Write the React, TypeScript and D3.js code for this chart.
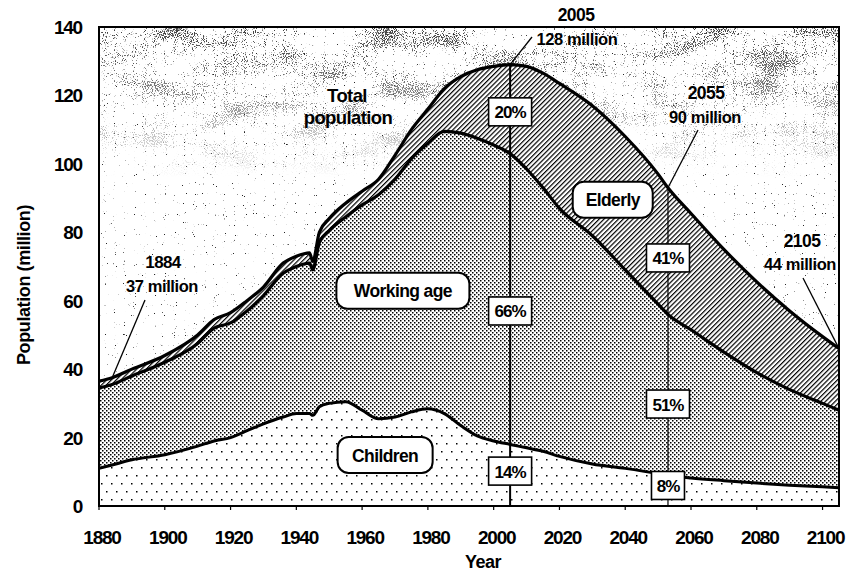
import React from 'react';
import * as d3 from 'd3';

// population of Japan, million
const years = [1880, 1884, 1890, 1900, 1910, 1915, 1920, 1925, 1930, 1936, 1940, 1944, 1945, 1947, 1950, 1955, 1960, 1965, 1970, 1975, 1980, 1985, 1990, 1995, 2000, 2005, 2010, 2015, 2020, 2030, 2040, 2050, 2053, 2060, 2070, 2080, 2090, 2100, 2105];
const total = [36.5, 37.5, 40, 44, 50, 54.5, 56.5, 60, 64, 71, 73, 74, 71.5, 80, 84, 88.5, 92, 95.5, 102.5, 110, 116, 122, 125.5, 127.5, 128.5, 129, 128.5, 126.5, 123.5, 117, 108, 97, 93, 85.5, 75, 65.5, 57, 49.5, 46];
const nonElderly = [34.5, 35.5, 38, 42, 47.5, 52, 53.5, 57, 61.5, 68, 70, 71, 69, 77, 80.5, 84.5, 88, 91, 95.5, 101.5, 106, 109.5, 109, 107.5, 105.5, 103, 98.5, 93, 87, 79, 69, 59, 56, 51.5, 45, 39, 34, 30, 28];
const children = [11, 12, 13.5, 15, 17.5, 19, 20, 22, 24, 26, 27, 27, 26.5, 29, 30, 30.5, 28, 25.5, 26, 27.5, 28.4, 27, 23.5, 20.5, 19, 18, 17, 16, 14.5, 12.3, 11, 9.5, 9, 8.2, 7.4, 6.7, 6.1, 5.6, 5.3];

const xTicks = [1880, 1900, 1920, 1940, 1960, 1980, 2000, 2020, 2040, 2060, 2080, 2100];
const yTicks = [0, 20, 40, 60, 80, 100, 120, 140];

const markerYears = [2005, 2053];
const shareLabels = [
  { year: 2005, value: 115.2, text: '20%' },
  { year: 2005, value: 57, text: '66%' },
  { year: 2005, value: 10.2, text: '14%' },
  { year: 2053, value: 72.5, text: '41%' },
  { year: 2053, value: 29.8, text: '51%' },
  { year: 2053, value: 6, text: '8%' },
];
const groupLabels = [
  { year: 1972.4, value: 62.9, text: 'Working age', w: 133 },
  { year: 1967, value: 14.9, text: 'Children', w: 95 },
  { year: 2036.2, value: 89.5, text: 'Elderly', w: 80 },
];

const W = 849, H = 574;
const FONT = 'Arial, "Liberation Sans", Helvetica, sans-serif';

const totalAt = (yr: number) => {
  const i = years.findIndex(v => v >= yr);
  if (years[i] === yr) return total[i];
  const f = (yr - years[i - 1]) / (years[i] - years[i - 1]);
  return total[i - 1] + f * (total[i] - total[i - 1]);
};

export default function App() {
  const x = d3.scaleLinear().domain([1880, 2105]).range([99, 839]);
  const y = d3.scaleLinear().domain([0, 140]).range([506, 27]);
  const rows = years.map((yr, i) => ({ yr, t: total[i], n: nonElderly[i], c: children[i] }));
  const curve = d3.curveMonotoneX;

  const childArea = d3.area<any>().x(d => x(d.yr)).y0(y(0)).y1(d => y(d.c)).curve(curve)(rows)!;
  const workArea = d3.area<any>().x(d => x(d.yr)).y0(d => y(d.c)).y1(d => y(d.n)).curve(curve)(rows)!;
  const oldArea = d3.area<any>().x(d => x(d.yr)).y0(d => y(d.n)).y1(d => y(d.t)).curve(curve)(rows)!;
  const line = (key: string) => d3.line<any>().x(d => x(d.yr)).y(d => y(d[key])).curve(curve)(rows)!;

  const x0 = x(1880), x1 = x(2105), yTop = y(140), yBot = y(0);

  return (
    <svg width={W} height={H} style={{ position: 'absolute', left: 0, top: 0, background: '#fff' }} fontFamily={FONT}>
      <defs>
        <clipPath id="plot"><rect x={x0} y={yTop} width={x1 - x0} height={yBot - yTop} /></clipPath>
        {/* scanned-paper speckle above the curves */}
        <filter id="sparse-noise" x="0" y="0" width="1" height="1" colorInterpolationFilters="sRGB">
          <feTurbulence type="fractalNoise" baseFrequency="0.9" numOctaves={1} seed={4} result="fine" />
          <feColorMatrix in="fine" type="matrix" values="0 0 0 0 0.15  0 0 0 0 0.15  0 0 0 0 0.15  18 0 0 0 -12.8" />
        </filter>
        <filter id="dense-noise" x="0" y="0" width="1" height="1" colorInterpolationFilters="sRGB">
          <feTurbulence type="fractalNoise" baseFrequency="0.9" numOctaves={1} seed={9} result="fine" />
          <feColorMatrix in="fine" type="matrix" values="1 0 0 0 0  1 0 0 0 0  1 0 0 0 0  0 0 0 0 1" result="fineG" />
          <feTurbulence type="fractalNoise" baseFrequency="0.02 0.04" numOctaves={2} seed={11} result="coarse" />
          <feColorMatrix in="coarse" type="matrix" values="1 0 0 0 0  1 0 0 0 0  1 0 0 0 0  0 0 0 0 1" result="coarseG" />
          <feComposite in="fineG" in2="coarseG" operator="arithmetic" k1={0} k2={1} k3={0.6} k4={-0.3} result="sum" />
          <feColorMatrix in="sum" type="matrix" values="0 0 0 0 0.25  0 0 0 0 0.25  0 0 0 0 0.25  12 0 0 0 -7.4" />
        </filter>
        <linearGradient id="fade" x1="0" y1="0" x2="0" y2="1">
          <stop offset="0" stopColor="#fff" stopOpacity={1} />
          <stop offset="0.4" stopColor="#fff" stopOpacity={0.7} />
          <stop offset="1" stopColor="#fff" stopOpacity={0} />
        </linearGradient>
        <mask id="fadeMask" maskContentUnits="userSpaceOnUse">
          <rect x={x0} y={yTop} width={x1 - x0} height={150} fill="url(#fade)" />
        </mask>
        <pattern id="hatch" width={3.4} height={3.4} patternUnits="userSpaceOnUse" patternTransform="rotate(45)">
          <rect width={3.4} height={3.4} fill="#fff" />
          <line x1={0.6} y1={0} x2={0.6} y2={3.4} stroke="#000" strokeWidth={1.2} />
        </pattern>
        <pattern id="dense" width={4} height={4} patternUnits="userSpaceOnUse">
          <rect width={4} height={4} fill="#fff" />
          <rect x={0} y={0} width={1.5} height={1.5} fill="#000" />
          <rect x={2} y={2} width={1.5} height={1.5} fill="#000" />
        </pattern>
        <pattern id="sparse" width={10} height={16} patternUnits="userSpaceOnUse">
          <rect width={10} height={16} fill="#fff" />
          <rect x={1} y={3} width={1.5} height={1.5} fill="#000" />
          <rect x={6} y={11} width={1.5} height={1.5} fill="#000" />
        </pattern>
      </defs>

      <g clipPath="url(#plot)">
        <rect x={x0} y={yTop} width={x1 - x0} height={yBot - yTop} fill="#fff" />
        <rect x={x0} y={yTop} width={x1 - x0} height={yBot - yTop} filter="url(#sparse-noise)" />
        <g mask="url(#fadeMask)">
          <rect x={x0} y={yTop} width={x1 - x0} height={150} filter="url(#dense-noise)" />
        </g>
        <path d={oldArea} fill="url(#hatch)" />
        <path d={workArea} fill="url(#dense)" />
        <path d={childArea} fill="url(#sparse)" />
        <path d={line('t')} fill="none" stroke="#000" strokeWidth={3.2} strokeLinejoin="round" />
        <path d={line('n')} fill="none" stroke="#000" strokeWidth={3.2} strokeLinejoin="round" />
        <path d={line('c')} fill="none" stroke="#000" strokeWidth={3} strokeLinejoin="round" />
        {markerYears.map((yr, i) => (
          <line key={yr} x1={x(yr)} x2={x(yr)} y1={yBot} y2={y(totalAt(yr))} stroke="#000" strokeWidth={i === 0 ? 2 : 1.2} />
        ))}
      </g>

      {/* frame */}
      <rect x={x0} y={yTop} width={x1 - x0} height={yBot - yTop} fill="none" stroke="#000" strokeWidth={2} />

      {/* axes */}
      {xTicks.map(t => (
        <g key={t}>
          <line x1={x(t)} x2={x(t)} y1={yBot} y2={yBot + 4} stroke="#000" strokeWidth={1.2} />
          <text x={x(t) + 3} y={544} textAnchor="middle" fontSize={19} fontWeight="bold" letterSpacing={-1.2}>{t}</text>
        </g>
      ))}
      {yTicks.map(t => (
        <text key={t} x={82} y={y(t) + 7} textAnchor="end" fontSize={19} fontWeight="bold" letterSpacing={-1.2}>{t}</text>
      ))}
      <text x={483} y={568} textAnchor="middle" fontSize={18} fontWeight="bold" letterSpacing={-0.5}>Year</text>
      <text transform="translate(30,285) rotate(-90)" textAnchor="middle" fontSize={18} fontWeight="bold" letterSpacing={-0.4}>Population (million)</text>

      {/* leaders and callouts */}
      <line x1={x(1884)} y1={y(totalAt(1884))} x2={145} y2={300} stroke="#000" strokeWidth={1.3} />
      <text x={163} y={268} textAnchor="middle" fontSize={17} fontWeight="bold" letterSpacing={-0.6}>1884</text>
      <text x={162} y={292} textAnchor="middle" fontSize={16.5} fontWeight="bold" letterSpacing={-0.4}>37 million</text>

      <line x1={x(2005)} y1={y(totalAt(2005))} x2={532} y2={37} stroke="#000" strokeWidth={1.3} />
      <text x={576} y={21} textAnchor="middle" fontSize={17.5} fontWeight="bold" letterSpacing={-0.6}>2005</text>
      <text x={577} y={45} textAnchor="middle" fontSize={16.5} fontWeight="bold" letterSpacing={-0.4}>128 million</text>

      <line x1={x(2053)} y1={y(totalAt(2053))} x2={698} y2={130} stroke="#000" strokeWidth={1.3} />
      <text x={706} y={99} textAnchor="middle" fontSize={17.5} fontWeight="bold" letterSpacing={-0.6}>2055</text>
      <text x={705} y={123} textAnchor="middle" fontSize={16.5} fontWeight="bold" letterSpacing={-0.4}>90 million</text>

      <line x1={x(2105)} y1={y(totalAt(2105))} x2={803} y2={278} stroke="#000" strokeWidth={1.3} />
      <text x={802} y={247} textAnchor="middle" fontSize={17.5} fontWeight="bold" letterSpacing={-0.6}>2105</text>
      <text x={800} y={270} textAnchor="middle" fontSize={16.5} fontWeight="bold" letterSpacing={-0.4}>44 million</text>

      <text x={347} y={102} textAnchor="middle" fontSize={18.5} fontWeight="bold" letterSpacing={-0.6}>Total</text>
      <text x={348} y={124} textAnchor="middle" fontSize={18.5} fontWeight="bold" letterSpacing={-0.6}>population</text>

      {groupLabels.map(g => (
        <g key={g.text}>
          <rect x={x(g.year) - g.w / 2} y={y(g.value) - 18} width={g.w} height={36} rx={11} fill="#fff" stroke="#000" strokeWidth={2} />
          <text x={x(g.year)} y={y(g.value) + 6.5} textAnchor="middle" fontSize={17.5} fontWeight="bold" letterSpacing={-0.6}>{g.text}</text>
        </g>
      ))}

      {shareLabels.map(s => {
        const w = s.text.length > 2 ? 43 : 33;
        return (
          <g key={s.text}>
            <rect x={x(s.year) - w / 2} y={y(s.value) - 14} width={w} height={28} fill="#fff" stroke="#000" strokeWidth={1.6} />
            <text x={x(s.year)} y={y(s.value) + 6.5} textAnchor="middle" fontSize={17} fontWeight="bold" letterSpacing={-1}>{s.text}</text>
          </g>
        );
      })}
    </svg>
  );
}
